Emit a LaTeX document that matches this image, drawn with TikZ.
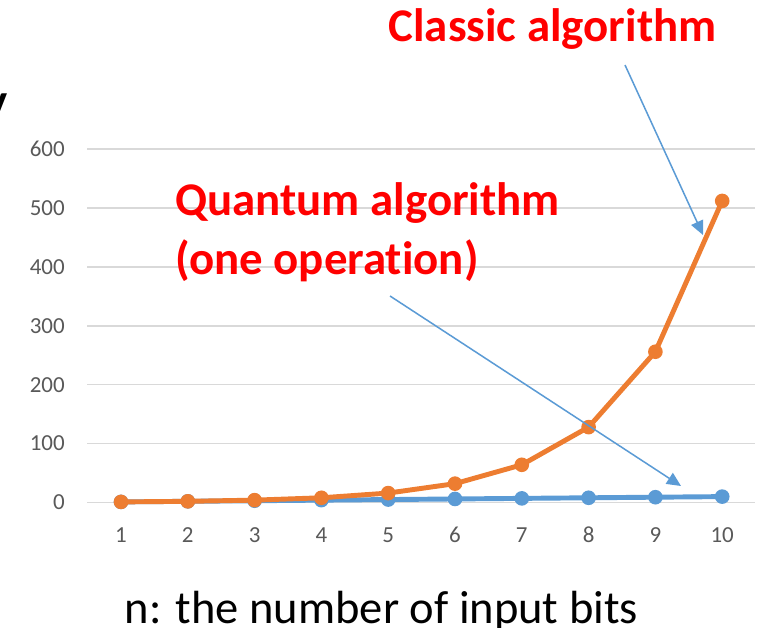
\documentclass[tikz,border=0pt]{standalone}
\usepackage{fontspec}
\setmainfont{Carlito}[Ligatures = NoCommon]
\usetikzlibrary{arrows.meta}
\definecolor{classicorange}{HTML}{ED7D31}
\definecolor{quantumblue}{HTML}{5B9BD5}
\definecolor{gridgray}{HTML}{D9D9D9}
\definecolor{ticktext}{HTML}{595959}

\begin{document}
\begin{tikzpicture}[x = 0.03cm, y = -0.03cm,
    grid/.style = {draw = gridgray, line width = 1.3pt},
    ticklabel/.style = {text = ticktext, font = \fontsize{19.6}{22}\selectfont, inner sep = 0pt},
    series/.style = {line width = 4.2pt, line join = round},
    marker/.style = {circle, fill = #1, inner sep = 0pt, minimum size = 12.5pt},
    callout/.style = {draw = quantumblue, line width = 1.3pt, -{Triangle[length = 12pt, width = 11pt]}},
    title/.style = {text = red, font = \fontsize{40}{48}\selectfont\bfseries, inner sep = 0pt}]
  \useasboundingbox (0, 0) rectangle (762, 628);

  % value axis
  \foreach \v/\lab in {0/0, 1/100, 2/200, 3/300, 4/400, 5/500, 6/600} {
    \draw [grid] (87, {502.5 - 58.9*\v}) -- (755, {502.5 - 58.9*\v});
    \node [ticklabel, anchor = east] (tick\v) at (65, {502.5 - 58.9*\v}) {\lab};
  }

  % categories and data points
  \foreach \n in {1, ..., 10} {
    \node [ticklabel] (cat\n) at ({121 + 66.8*(\n - 1)}, 535) {\n};
    \coordinate (q\n) at ({121 + 66.8*(\n - 1)}, {502.5 - 0.589*\n});
    \coordinate (c\n) at ({121 + 66.8*(\n - 1)}, {502.5 - 0.589*2^(\n - 1)});
  }

  % quantum series under the classic one
  \draw [series, quantumblue] (q1) \foreach \n in {2, ..., 10} { -- (q\n) };
  \foreach \n in {1, ..., 10} \node [marker = quantumblue] (qm\n) at (q\n) {};
  \draw [series, classicorange] (c1) \foreach \n in {2, ..., 10} { -- (c\n) };
  \foreach \n in {1, ..., 10} \node [marker = classicorange] (cm\n) at (c\n) {};

  % labels
  \node [font = \fontsize{40}{48}\selectfont\bfseries, inner sep = 0pt, anchor = base east] (cutoff) at (8, 117) {y};
  \node [title, anchor = base] (classic) at (552.5, 42) {Classic algorithm};
  \node [title, anchor = base west] (quantum) at (175, 216) {Quantum algorithm};
  \node [title, anchor = base west] (quantumop) at (175, 275) {(one operation)};
  \node [font = \fontsize{39.7}{48}\selectfont, inner sep = 0pt, anchor = base] (axistitle) at (381.5, 623) {n: the number of input bits};

  % callouts
  \coordinate (classictail) at (625, 65);
  \coordinate (classichead) at (703, 235);
  \coordinate (quantumtail) at (390, 296);
  \coordinate (quantumhead) at (681, 486);
  \draw [callout] (classictail) -- (classichead);
  \draw [callout] (quantumtail) -- (quantumhead);
\end{tikzpicture}
\end{document}
